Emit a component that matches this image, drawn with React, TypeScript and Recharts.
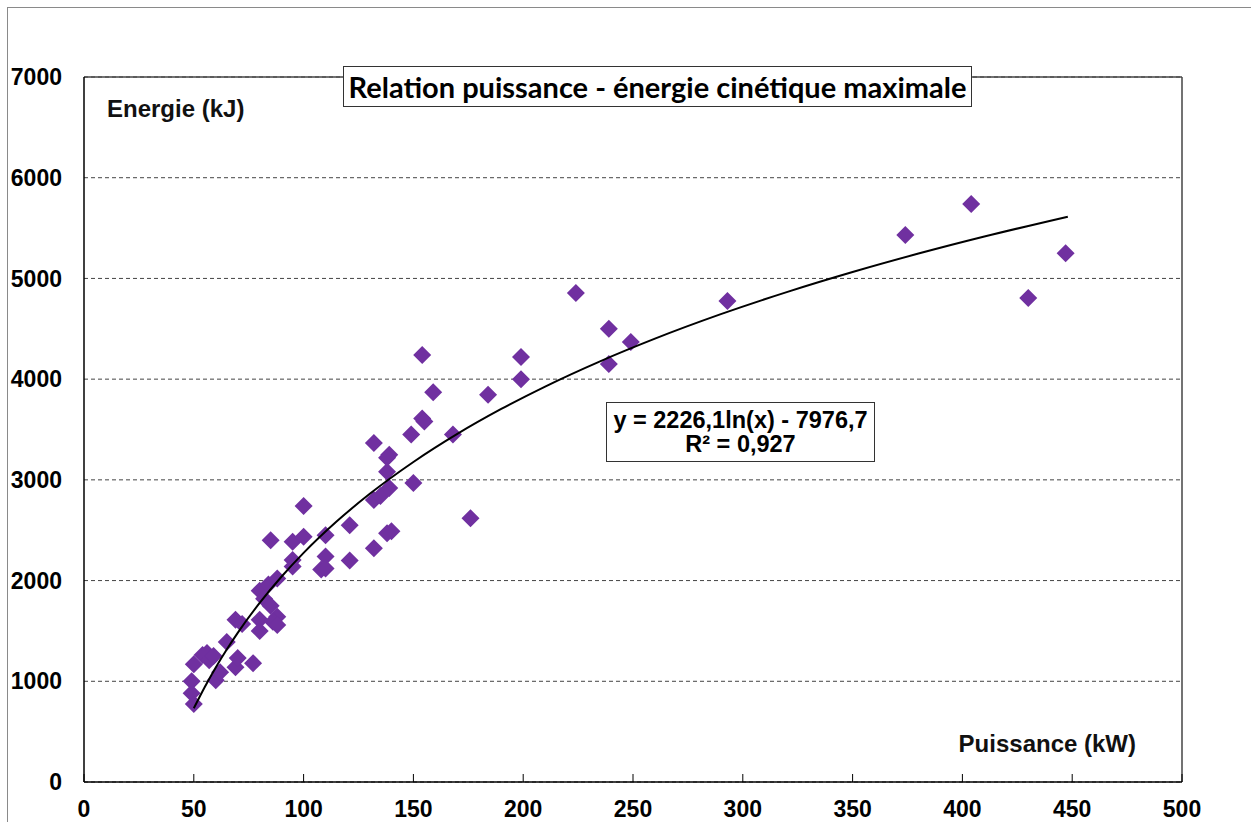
import React from "react";
import {
  ScatterChart,
  Scatter,
  XAxis,
  YAxis,
  CartesianGrid,
  ReferenceLine,
} from "recharts";

// Puissance (kW) / Energie (kJ)
const POWER_KW = [
  50, 49, 49, 50, 54, 57, 60, 62, 56, 59, 65, 69, 70, 77, 69, 72, 80, 82, 80, 80,
  84, 88, 85, 88, 86, 88, 85, 95, 100, 100, 95, 95, 110, 110, 108, 110, 121, 121,
  132, 132, 135, 132, 139, 138, 138, 139, 140, 138, 150, 149, 154, 155, 154, 159,
  168, 176, 184, 199, 199, 224, 239, 239, 249, 293, 374, 404, 430, 447,
];
const ENERGY_KJ = [
  775, 880, 1000, 1170, 1260, 1210, 1010, 1090, 1280, 1250, 1390, 1140, 1230, 1180,
  1610, 1570, 1900, 1820, 1610, 1500, 1960, 2020, 1750, 1640, 1590, 1560, 2400,
  2385, 2435, 2740, 2205, 2140, 2450, 2240, 2110, 2120, 2550, 2200, 2320, 2800,
  2840, 3365, 3250, 3220, 3080, 2920, 2490, 2470, 2970, 3450, 3610, 3580, 4240,
  3870, 3450, 2620, 3845, 4220, 4000, 4855, 4500, 4150, 4370, 4775, 5430, 5740,
  4805, 5250,
];

// logarithmic trend line as printed on the chart
const TREND_A = 2226.1;
const TREND_B = -7976.7;
const TREND_X = [
  50, 55, 60, 65, 70, 80, 90, 100, 115, 130, 150, 170, 190, 210, 235, 260, 290,
  320, 350, 380, 410, 448,
];

const X_TICKS = [0, 50, 100, 150, 200, 250, 300, 350, 400, 450, 500];
const Y_TICKS = [0, 1000, 2000, 3000, 4000, 5000, 6000, 7000];

const points = POWER_KW.map((x, i) => ({ x, y: ENERGY_KJ[i] }));
const trend = TREND_X.map((x) => ({ x, y: TREND_A * Math.log(x) + TREND_B }));

const FONT = "'Liberation Sans', Arial, sans-serif";
const PURPLE = "#7030A0";

const Diamond = (props: any) => {
  const { cx, cy } = props;
  const s = 9;
  return (
    <path
      d={`M${cx},${cy - s}L${cx + s},${cy}L${cx},${cy + s}L${cx - s},${cy}Z`}
      fill={PURPLE}
    />
  );
};

const XTick = (props: any) => {
  const { x, y, payload } = props;
  return (
    <g>
      <line x1={x} y1={y} x2={x} y2={y - 8} stroke="#000" strokeWidth={1} />
      <text
        x={x}
        y={y + 35}
        textAnchor="middle"
        fontFamily={FONT}
        fontWeight="bold"
        fontSize={23}
        fill="#000"
      >
        {payload.value}
      </text>
    </g>
  );
};

const App = () => {
  return (
    <div
      style={{
        position: "absolute",
        left: 0,
        top: 0,
        width: 1251,
        height: 822,
        background: "#fff",
        overflow: "hidden",
      }}
    >
      <div
        style={{
          position: "absolute",
          left: 7,
          top: 7,
          width: 1260,
          height: 830,
          borderTop: "1.5px solid #8a8a8a",
          borderLeft: "1.5px solid #8a8a8a",
        }}
      />
      <ScatterChart
        width={1251}
        height={822}
        margin={{ top: 77, right: 69, bottom: 0, left: 24 }}
        style={{ position: "absolute", left: 0, top: 0 }}
      >
        <CartesianGrid
          vertical={false}
          stroke="#444"
          strokeDasharray="4 3"
        />
        <XAxis
          type="number"
          dataKey="x"
          domain={[0, 500]}
          ticks={X_TICKS}
          height={40}
          tickLine={false}
          tickSize={0}
          tickMargin={0}
          axisLine={{ stroke: "#000", strokeWidth: 1.5 }}
          tick={<XTick />}
          allowDataOverflow
        />
        <YAxis
          type="number"
          dataKey="y"
          domain={[0, 7000]}
          ticks={Y_TICKS}
          width={60}
          tickLine={false}
          tickSize={0}
          tickMargin={22}
          axisLine={{ stroke: "#000", strokeWidth: 1.5 }}
          tick={{
            fill: "#000",
            fontSize: 23,
            fontWeight: "bold",
            fontFamily: FONT,
          }}
          allowDataOverflow
        />
        <ReferenceLine y={7000} stroke="#444" strokeWidth={1.5} />
        <ReferenceLine x={500} stroke="#444" strokeWidth={1.5} />
        <Scatter
          data={points}
          shape={<Diamond />}
          isAnimationActive={false}
        />
        <Scatter
          data={trend}
          line={{ stroke: "#000", strokeWidth: 2 }}
          lineJointType="monotoneX"
          shape={() => null}
          isAnimationActive={false}
        />
      </ScatterChart>

      <div
        style={{
          position: "absolute",
          left: 107,
          top: 95,
          fontFamily: FONT,
          fontWeight: "bold",
          fontSize: 24,
          color: "#111",
          whiteSpace: "nowrap",
        }}
      >
        Energie (kJ)
      </div>
      <div
        style={{
          position: "absolute",
          right: 1251 - 1136,
          top: 730,
          fontFamily: FONT,
          fontWeight: "bold",
          fontSize: 24,
          color: "#111",
          whiteSpace: "nowrap",
        }}
      >
        Puissance (kW)
      </div>

      <div
        style={{
          position: "absolute",
          left: 343,
          top: 66,
          width: 629,
          height: 41,
          boxSizing: "border-box",
          border: "1.5px solid #333",
          background: "#fff",
          display: "flex",
          alignItems: "center",
          justifyContent: "center",
          fontFamily: "Lato, 'Open Sans', sans-serif",
          fontWeight: "bold",
          fontSize: 29,
          color: "#000",
          whiteSpace: "nowrap",
        }}
      >
        Relation puissance - énergie cinétique maximale
      </div>

      <div
        style={{
          position: "absolute",
          left: 606,
          top: 402,
          width: 269,
          height: 60,
          boxSizing: "border-box",
          border: "1.5px solid #333",
          background: "#fff",
          display: "flex",
          flexDirection: "column",
          alignItems: "center",
          justifyContent: "center",
          fontFamily: FONT,
          fontWeight: "bold",
          fontSize: 23.5,
          lineHeight: "24px",
          color: "#000",
          whiteSpace: "nowrap",
        }}
      >
        <div>y = 2226,1ln(x) - 7976,7</div>
        <div>R² = 0,927</div>
      </div>
    </div>
  );
};

export default App;
